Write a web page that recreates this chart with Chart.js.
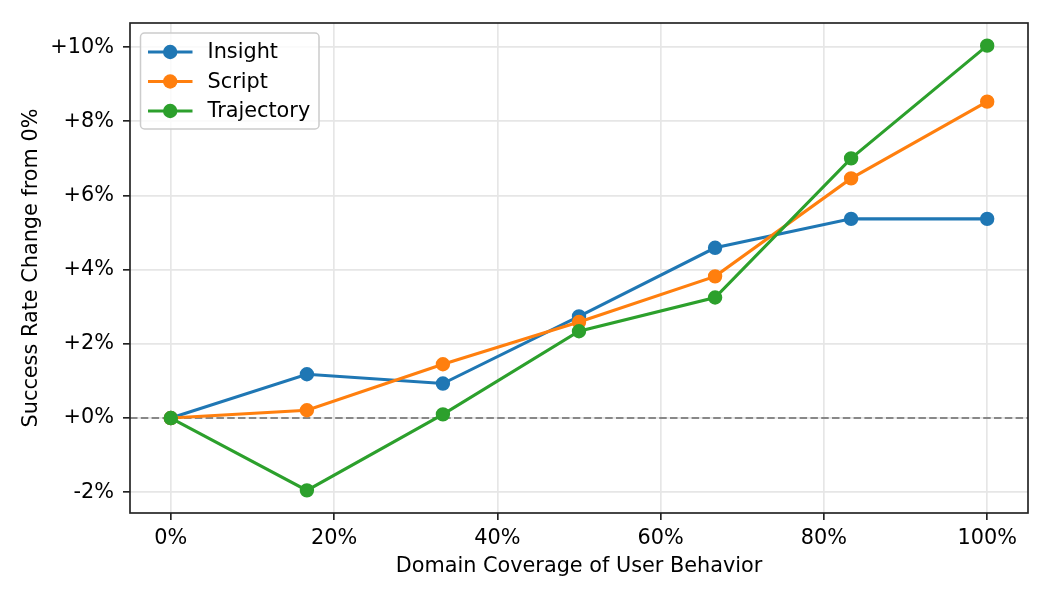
<!DOCTYPE html>
<html>
<head>
<meta charset="utf-8">
<script src="https://cdn.jsdelivr.net/npm/chart.js@4/dist/chart.umd.min.js"></script>
<style>
  html, body { margin: 0; padding: 0; background: #fff; }
  canvas { display: block; }
</style>
</head>
<body>
<canvas id="lineChart" width="1050" height="600"></canvas>
<script>
// coverage of user behaviour (%)
var coverage = [0, 16.67, 33.33, 50, 66.67, 83.33, 100];

// success rate change from 0% coverage (percentage points)
var insight    = [0, 1.18, 0.93, 2.74, 4.59, 5.37, 5.37];
var script     = [0, 0.21, 1.45, 2.59, 3.82, 6.46, 8.53];
var trajectory = [0, -1.95, 0.10, 2.34, 3.25, 7.00, 10.04];

var seriesNames = ['Insight', 'Script', 'Trajectory'];
var seriesColors = ['#1f77b4', '#ff7f0e', '#2ca02c'];

var xTicks = [0, 20, 40, 60, 80, 100];
var xTickLabels = ['0%', '20%', '40%', '60%', '80%', '100%'];
var yTicks = [-2, 0, 2, 4, 6, 8, 10];
var yTickLabels = ['-2%', '+0%', '+2%', '+4%', '+6%', '+8%', '+10%'];

var FONT = { family: '"DejaVu Sans", sans-serif', size: 20.8 };
var SPINE = '#222222';

function toPoints(values) {
  return values.map(function (v, i) { return { x: coverage[i], y: v }; });
}

function makeDataset(idx, values) {
  return {
    label: seriesNames[idx],
    data: toPoints(values),
    borderColor: seriesColors[idx],
    backgroundColor: seriesColors[idx],
    pointBackgroundColor: seriesColors[idx],
    pointBorderColor: seriesColors[idx],
    borderWidth: 3.1,
    pointRadius: 6.2,
    pointBorderWidth: 2,
    fill: false,
    tension: 0,
    order: 3 - idx
  };
}

// dashed reference line at 0 and the frame of the axes
var refLine = {
  id: 'refLine',
  beforeDatasetsDraw: function (chart) {
    var ctx = chart.ctx, area = chart.chartArea;
    var y = chart.scales.y.getPixelForValue(0);
    ctx.save();
    ctx.strokeStyle = '#888888';
    ctx.lineWidth = 2;
    ctx.setLineDash([7.5, 3.3]);
    ctx.beginPath();
    ctx.moveTo(area.left, y);
    ctx.lineTo(area.right, y);
    ctx.stroke();
    ctx.restore();
  },
  afterDraw: function (chart) {
    var ctx = chart.ctx, area = chart.chartArea;
    ctx.save();
    ctx.strokeStyle = SPINE;
    ctx.lineWidth = 1.67;
    ctx.strokeRect(area.left, area.top, area.right - area.left, area.bottom - area.top);
    ctx.restore();
  }
};

// matplotlib style legend: line with marker in the middle
var mplLegend = {
  id: 'mplLegend',
  afterDraw: function (chart) {
    var ctx = chart.ctx, area = chart.chartArea;
    var bx = area.left + 10.5, by = area.top + 10, bw = 178.5, bh = 96;
    ctx.save();
    ctx.beginPath();
    ctx.roundRect(bx, by, bw, bh, 4);
    ctx.fillStyle = 'rgba(255,255,255,0.8)';
    ctx.fill();
    ctx.strokeStyle = '#cccccc';
    ctx.lineWidth = 1.5;
    ctx.stroke();

    ctx.font = FONT.size + 'px ' + FONT.family;
    ctx.textBaseline = 'middle';
    ctx.textAlign = 'left';
    chart.data.datasets.forEach(function (ds, i) {
      var ry = by + 19 + i * 29.5;
      ctx.strokeStyle = ds.borderColor;
      ctx.lineWidth = 3.1;
      ctx.beginPath();
      ctx.moveTo(bx + 7.5, ry);
      ctx.lineTo(bx + 52, ry);
      ctx.stroke();
      ctx.beginPath();
      ctx.arc(bx + 29.7, ry, 7.2, 0, Math.PI * 2);
      ctx.fillStyle = ds.borderColor;
      ctx.fill();
      ctx.fillStyle = '#000';
      ctx.fillText(ds.label, bx + 67, ry + 1);
    });
    ctx.restore();
  }
};

var ctx = document.getElementById('lineChart').getContext('2d');

var myChart = new Chart(ctx, {
  type: 'line',
  data: {
    datasets: [
      makeDataset(0, insight),
      makeDataset(1, script),
      makeDataset(2, trajectory)
    ]
  },
  options: {
    responsive: false,
    animation: false,
    devicePixelRatio: 1,
    layout: { padding: { top: 23, right: 22, left: 0, bottom: 0 } },
    plugins: {
      legend: { display: false },
      tooltip: { enabled: false }
    },
    scales: {
      x: {
        type: 'linear',
        min: -5,
        max: 105,
        afterFit: function (scale) { scale.height = 87; },
        afterBuildTicks: function (scale) {
          scale.ticks = xTicks.map(function (v) { return { value: v }; });
        },
        ticks: {
          color: '#000',
          font: FONT,
          padding: 6,
          maxRotation: 0,
          autoSkip: false,
          callback: function (value, index) { return xTickLabels[index]; }
        },
        grid: {
          color: '#e6e6e6',
          lineWidth: 1.67,
          tickLength: 7,
          tickColor: SPINE,
          tickWidth: 1.67
        },
        border: { display: false },
        title: {
          display: true,
          text: 'Domain Coverage of User Behavior',
          color: '#000',
          font: FONT,
          padding: { top: 0, bottom: 21 }
        }
      },
      y: {
        type: 'linear',
        min: -2.56,
        max: 10.65,
        afterFit: function (scale) { scale.width = 130; },
        afterBuildTicks: function (scale) {
          scale.ticks = yTicks.map(function (v) { return { value: v }; });
        },
        ticks: {
          color: '#000',
          font: FONT,
          padding: 9,
          autoSkip: false,
          callback: function (value, index) { return yTickLabels[index]; }
        },
        grid: {
          color: '#e6e6e6',
          lineWidth: 1.67,
          tickLength: 7,
          tickColor: SPINE,
          tickWidth: 1.67
        },
        border: { display: false },
        title: {
          display: true,
          text: 'Success Rate Change from 0%',
          color: '#000',
          font: FONT,
          padding: { top: 19, bottom: 0 }
        }
      }
    }
  },
  plugins: [refLine, mplLegend]
});
</script>
</body>
</html>
